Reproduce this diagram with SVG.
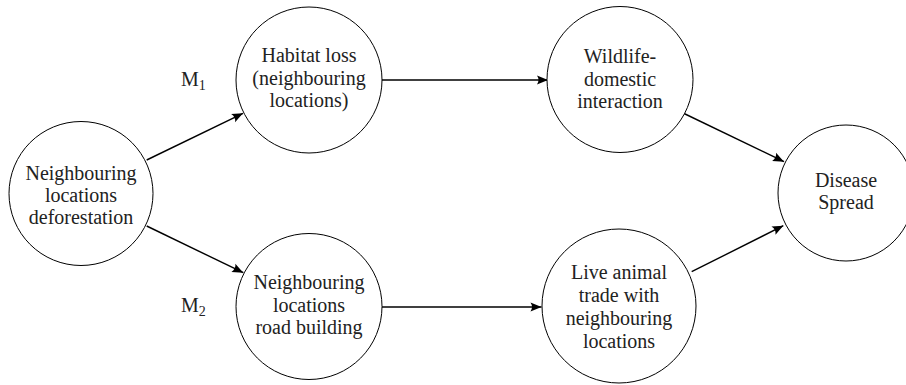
<svg xmlns="http://www.w3.org/2000/svg" width="906" height="385" viewBox="0 0 906 385">
<style>
.node circle{fill:#fff;stroke:#000;stroke-width:1}
text{font-family:'Liberation Serif','DejaVu Serif','Times New Roman',serif;font-size:20px;fill:#222;text-anchor:middle}
.edge{stroke:#000;stroke-width:1.4;fill:none;marker-end:url(#arr)}
</style>
<defs>
<marker id="arr" markerUnits="userSpaceOnUse" markerWidth="14" markerHeight="12" refX="12" refY="6" orient="auto">
<path d="M12,6 L1,1.5 Q4,6 1,10.5 Z" fill="#000"/>
</marker>
</defs>
<g id="connectors">
<line class="edge" x1="146.7" y1="160" x2="243" y2="113.3"/>
<line class="edge" x1="146.7" y1="226" x2="243.3" y2="272.7"/>
<line class="edge" x1="382" y1="80" x2="548" y2="80"/>
<line class="edge" x1="382" y1="307" x2="541.5" y2="307"/>
<line class="edge" x1="683" y1="113" x2="784" y2="161.7"/>
<line class="edge" x1="691.7" y1="271.7" x2="783.3" y2="225.7"/>
</g>
<g id="label-m1"><text x="181" y="86" style="text-anchor:start" font-family="Liberation Serif, serif">M<tspan font-size="14" dy="4">1</tspan></text></g>
<g id="label-m2"><text x="181" y="312" style="text-anchor:start" font-family="Liberation Serif, serif">M<tspan font-size="14" dy="4">2</tspan></text></g>
<g id="n-deforestation" class="node" font-family="Liberation Serif, serif">
<circle cx="81" cy="193.5" r="72"/>
<text x="81" y="180">Neighbouring</text>
<text x="81" y="202">locations</text>
<text x="81" y="224">deforestation</text>
</g>
<g id="n-habitat" class="node">
<circle cx="309" cy="80" r="73"/>
<text x="309" y="62">Habitat loss</text>
<text x="309" y="84.5">(neighbouring</text>
<text x="309" y="107">locations)</text>
</g>
<g id="n-wildlife" class="node">
<circle cx="620" cy="79.5" r="73"/>
<text x="620" y="63">Wildlife-</text>
<text x="620" y="85.5">domestic</text>
<text x="620" y="108">interaction</text>
</g>
<g id="n-disease" class="node">
<circle cx="846" cy="193" r="68"/>
<text x="846" y="187">Disease</text>
<text x="846" y="209">Spread</text>
</g>
<g id="n-road" class="node">
<circle cx="309" cy="306.5" r="73"/>
<text x="309" y="289">Neighbouring</text>
<text x="309" y="311.5">locations</text>
<text x="309" y="334">road building</text>
</g>
<g id="n-trade" class="node">
<circle cx="619" cy="306" r="77"/>
<text x="619" y="278.5">Live animal</text>
<text x="619" y="301.5">trade with</text>
<text x="619" y="324.5">neighbouring</text>
<text x="619" y="347.5">locations</text>
</g>
</svg>
